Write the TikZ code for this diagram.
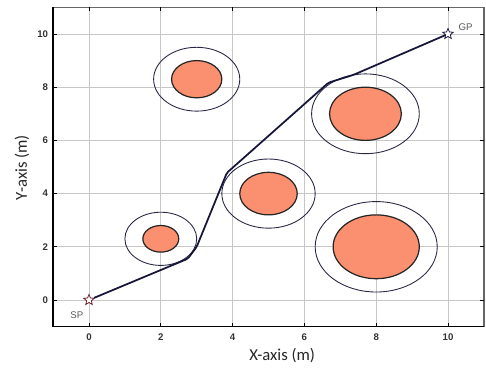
\documentclass[tikz,border=0pt]{standalone}
\usepackage{fontspec}
\setmainfont{Liberation Sans}
\newfontfamily\axisfont{Carlito}
\usetikzlibrary{shapes.geometric}

\begin{document}
\begin{tikzpicture}[x=0.718cm,y=0.532cm,
    gridline/.style={black!22,line width=0.5pt},
    tickmark/.style={black,line width=0.5pt},
    ticklabel/.style={font=\fontsize{5.5}{6}\selectfont\bfseries,text=black!80,inner sep=0pt},
    obstacle/.style={draw=black!85,line width=0.7pt,fill={rgb,255:red,250;green,144;blue,112}},
    margin/.style={draw={rgb,255:red,40;green,40;blue,70},line width=0.5pt},
    marker/.style={star,star points=5,star point ratio=2.2,fill=white,inner sep=0pt,minimum size=2.2mm,line width=0.45pt},
    pointlabel/.style={font=\fontsize{5.5}{6}\selectfont,text=black!65,inner sep=0pt},
    axislabel/.style={font=\axisfont\fontsize{9.5}{10}\selectfont,text=black!85,inner sep=0pt},
    route/.style={draw={rgb,255:red,22;green,22;blue,58},line width=1pt,line join=round,rounded corners=1pt}]
  \useasboundingbox (-2.479,-2.594) rectangle (11.058,11.278);
  % grid
  \foreach \v in {0,2,...,10} {
    \draw[gridline] (\v,-1) -- (\v,11);
    \draw[gridline] (-1,\v) -- (11,\v);
  }
  % obstacles with safety margins
  \foreach \cx/\cy/\r in {3/8.3/0.7, 7.7/7/1, 5/4/0.8, 2/2.3/0.5, 8/2/1.2} {
    \draw[margin] (\cx,\cy) circle[radius=\r+0.5];
    \draw[obstacle] (\cx,\cy) circle[radius=\r];
  }
  % frame
  \draw[black!60,line width=0.7pt] (-1,11) -- (11,11) -- (11,-1);
  \draw[black,line width=0.9pt] (-1,11) -- (-1,-1) -- (11,-1);
  % ticks
  \foreach \v in {0,2,...,10} {
    \draw[tickmark] (\v,-1) -- ++(0,0.15);
    \draw[tickmark] (\v,11) -- ++(0,-0.15);
    \draw[tickmark] (-1,\v) -- ++(0.11,0);
    \draw[tickmark] (11,\v) -- ++(-0.11,0);
    \node[ticklabel] (xt\v) at (\v,-1.38) {\v};
    \node[ticklabel,anchor=east] (yt\v) at (-1.13,\v) {\v};
  }
  % start and goal
  \node[marker,draw={rgb,255:red,110;green,30;blue,40}] (sp) at (0,0) {};
  \node[marker,draw={rgb,255:red,30;green,30;blue,70}] (gp) at (10,10) {};
  \node[pointlabel] (splabel) at (-0.34,-0.56) {SP};
  \node[pointlabel] (gplabel) at (10.49,10.25) {GP};
  % planned route
  \coordinate (w1) at (2.75,1.55);
  \coordinate (w2) at (3.0,2.0);
  \coordinate (w3) at (3.84,4.78);
  \coordinate (w4) at (6.67,8.17);
  \coordinate (w5) at (7.36,8.46);
  \draw[route] (sp) -- (w1) -- (w2) -- (w3) -- (w4) -- (w5) -- (gp);
  % axis labels
  \node[axislabel] (xlabel) at (5.38,-2.07) {X-axis (m)};
  \node[axislabel,rotate=90] (ylabel) at (-1.87,4.98) {Y-axis (m)};
\end{tikzpicture}
\end{document}
